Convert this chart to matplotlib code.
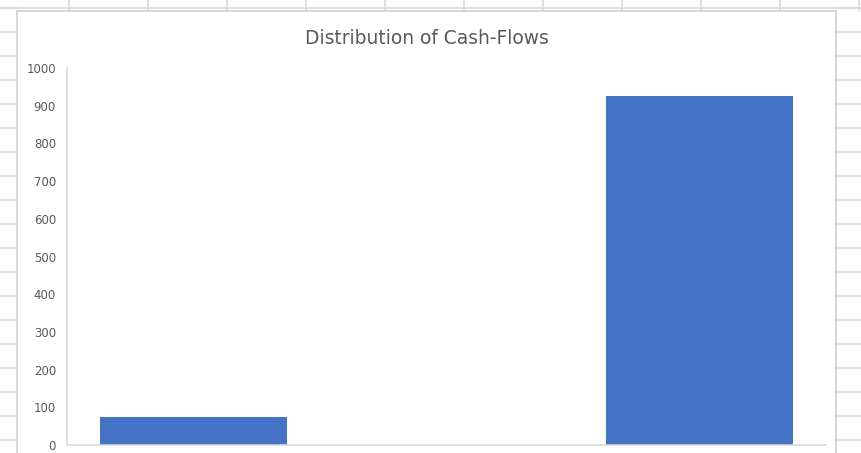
import matplotlib.pyplot as plt
from matplotlib.lines import Line2D
from matplotlib.patches import Rectangle

# Data
categories = ["Negative", "Zero", "Positive"]
counts = [75, 0, 925]
y_ticks = [0, 100, 200, 300, 400, 500, 600, 700, 800, 900, 1000]

W, H = 861, 453
fig = plt.figure(figsize=(W / 100, H / 100), dpi=100)
fig.patch.set_facecolor("white")

grid_col = "#dadada"


def fx(px):
    return px / W


def fy(py):
    return 1 - py / H


# spreadsheet cells behind the chart
col_x = [69 + 79 * i for i in range(11)]
row_y = [8 + 24 * i for i in range(19)]
for x in col_x:
    fig.add_artist(Line2D([fx(x), fx(x)], [fy(0), fy(11)], color=grid_col, lw=1.2, zorder=-3))
for y in row_y:
    fig.add_artist(Line2D([fx(0), fx(17)], [fy(y), fy(y)], color=grid_col, lw=1.2, zorder=-3))
    fig.add_artist(Line2D([fx(836), fx(861)], [fy(y), fy(y)], color=grid_col, lw=1.2, zorder=-3))
fig.add_artist(Line2D([fx(0), fx(861)], [fy(8), fy(8)], color=grid_col, lw=1.2, zorder=-3))

# chart area
fig.add_artist(Rectangle((fx(17), fy(460)), fx(836) - fx(17), fy(11) - fy(460),
                         transform=fig.transFigure, facecolor="white",
                         edgecolor="#d0d0d0", lw=1.2, zorder=-2))

ax = fig.add_axes([fx(67), fy(445), fx(826) - fx(67), fy(68) - fy(445)])
ax.set_facecolor("none")

x = range(len(categories))
ax.bar(x, counts, width=0.74, color="#4472C4")

ax.set_xlim(-0.5, len(categories) - 0.5)
ax.set_ylim(0, 1000)
ax.set_yticks(y_ticks)
ax.set_xticks([])
ax.tick_params(axis="y", length=0, pad=8, labelsize=8.5, labelcolor="#595959")

for side in ["top", "right"]:
    ax.spines[side].set_visible(False)
for side in ["left", "bottom"]:
    ax.spines[side].set_color("#d9d9d9")
    ax.spines[side].set_linewidth(1.2)

fig.text(fx(427), fy(38), "Distribution of Cash-Flows", ha="center", va="center",
         fontsize=13.4, color="#595959")

fig.savefig("out.png", dpi=100)
